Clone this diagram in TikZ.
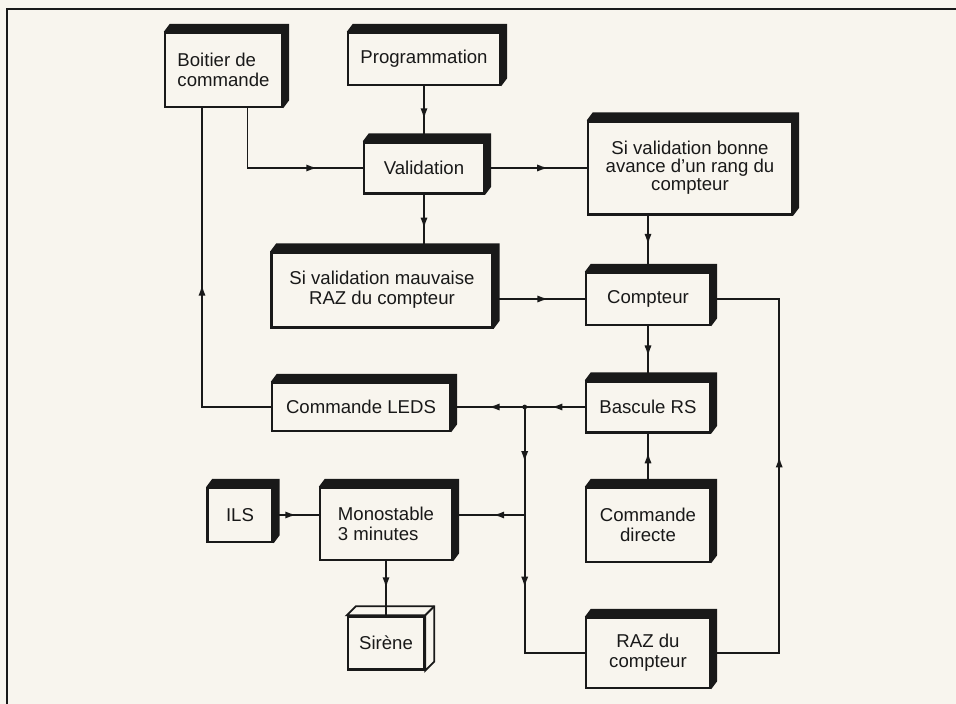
\documentclass[tikz,border=0pt]{standalone}
\usepackage{fontspec}
\setmainfont{Liberation Sans}
\usetikzlibrary{arrows.meta,calc,decorations.markings}

\definecolor{paper}{RGB}{248,245,238}
\definecolor{ink}{RGB}{25,25,25}

\tikzset{
  blk/.style={draw=ink, line width=1.2pt, fill=paper, inner sep=0pt, align=center,
    text=ink, font=\fontsize{9.3}{10}\selectfont},
  wire/.style={draw=ink, line width=.85pt},
  midarr/.style={postaction={decorate}, decoration={markings,
    mark=at position #1 with {\arrow{Latex[length=5.5pt,width=3.6pt]}}}},
  twoarr/.style 2 args={postaction={decorate}, decoration={markings,
    mark=at position #1 with {\arrow{Latex[length=5.5pt,width=3.6pt]}},
    mark=at position #2 with {\arrow{Latex[length=5.5pt,width=3.6pt]}}}},
}

\begin{document}
\begin{tikzpicture}[x=.5pt, y=-.5pt]
\useasboundingbox[fill=paper] (0,0) rectangle (956,704);
\draw[ink, line width=1pt] (7,704) -- (7,9) -- (956,9);

% blocks, placed at their centres
\node[blk, minimum width=58.5pt, minimum height=37pt, align=left] (boitier) at (223.5,70) {Boitier de\\commande};
\node[blk, minimum width=76pt, minimum height=26pt] (prog) at (424,59) {Programmation};
\node[blk, minimum width=60pt, minimum height=25.5pt] (valid) at (424,168) {Validation};
\node[blk, minimum width=102pt, minimum height=46.5pt, font=\fontsize{9.3}{9}\selectfont] (bonne) at (690,168) {Si validation bonne\\avance d'un rang du\\compteur};
\node[blk, minimum width=110.5pt, minimum height=37.5pt] (mauv) at (382,290) {Si validation mauvaise\\RAZ du compteur};
\node[blk, minimum width=62pt, minimum height=26pt] (comp) at (648,299) {Compteur};
\node[blk, minimum width=89pt, minimum height=24pt] (leds) at (361,407) {Commande LEDS};
\node[blk, minimum width=62pt, minimum height=25.5pt] (basc) at (648,407) {Bascule RS};
\node[blk, minimum width=32.5pt, minimum height=27pt] (ils) at (240,515) {ILS};
\node[blk, minimum width=66pt, minimum height=36pt, align=left] (mono) at (386,524) {Monostable\\3 minutes};
\node[blk, minimum width=62pt, minimum height=37pt] (directe) at (648,525) {Commande\\directe};
\node[blk, minimum width=38pt, minimum height=26.5pt] (sirene) at (386,643) {Sirène};
\node[blk, minimum width=62pt, minimum height=35pt] (raz) at (648,653) {RAZ du\\compteur};

% thick black top and right faces
\foreach \n in {boitier,prog,valid,bonne,mauv,comp,leds,basc,ils,mono,directe,raz}
  \fill[ink] (\n.north west) -- ++(6,-8) -- ($(\n.north east)+(6,-8)$)
    -- ($(\n.south east)+(6,-8)$) -- (\n.south east) -- (\n.north east) -- cycle;
% the siren is drawn as an open box
\filldraw[fill=paper, draw=ink, line width=.9pt] (sirene.north west) -- ++(9,-9)
  -- ($(sirene.north east)+(9,-9)$) -- ($(sirene.south east)+(9,-9)$)
  -- (sirene.south east) -- (sirene.north east) -- cycle;
\draw[ink, line width=.9pt] (sirene.north east) -- ++(9,-9);

% connections
\draw[wire, midarr=.6] (prog) -- (valid);
\draw[wire, midarr=.74] ($(boitier.south west)!.7!(boitier.south east)$) |- (valid);
\draw[wire, midarr=.62] (valid) -- (bonne);
\draw[wire, midarr=.6] (valid.south) -- (valid.south |- mauv.north);
\draw[wire, midarr=.6] (mauv.east |- comp.west) -- (comp.west);
\draw[wire, midarr=.52] (bonne.south -| comp.north) -- (comp.north);
\draw[wire, midarr=.56] (comp) -- (basc);
\draw[wire, midarr=.54] (raz.east) -- ++(68,0) |- (comp.east);
\draw[wire, twoarr={.25}{.72}] (basc) -- (leds);
\coordinate (j1) at ($(basc.west)!.45!(leds.east)$);
\fill[ink] (j1) circle[radius=1.2pt];
\draw[wire, twoarr={.18}{.59}] (j1) |- (raz.west);
\draw[wire, midarr=.44] (j1 |- ils.east) -- (mono.east |- ils.east);
\draw[wire, midarr=.5] (ils) -- (mono.west |- ils.east);
\draw[wire, midarr=.5] (mono) -- (sirene);
\draw[wire, midarr=.65] (directe) -- (basc);
\draw[wire, midarr=.52] (leds.west) -| ($(boitier.south west)!.32!(boitier.south east)$);
\end{tikzpicture}
\end{document}
